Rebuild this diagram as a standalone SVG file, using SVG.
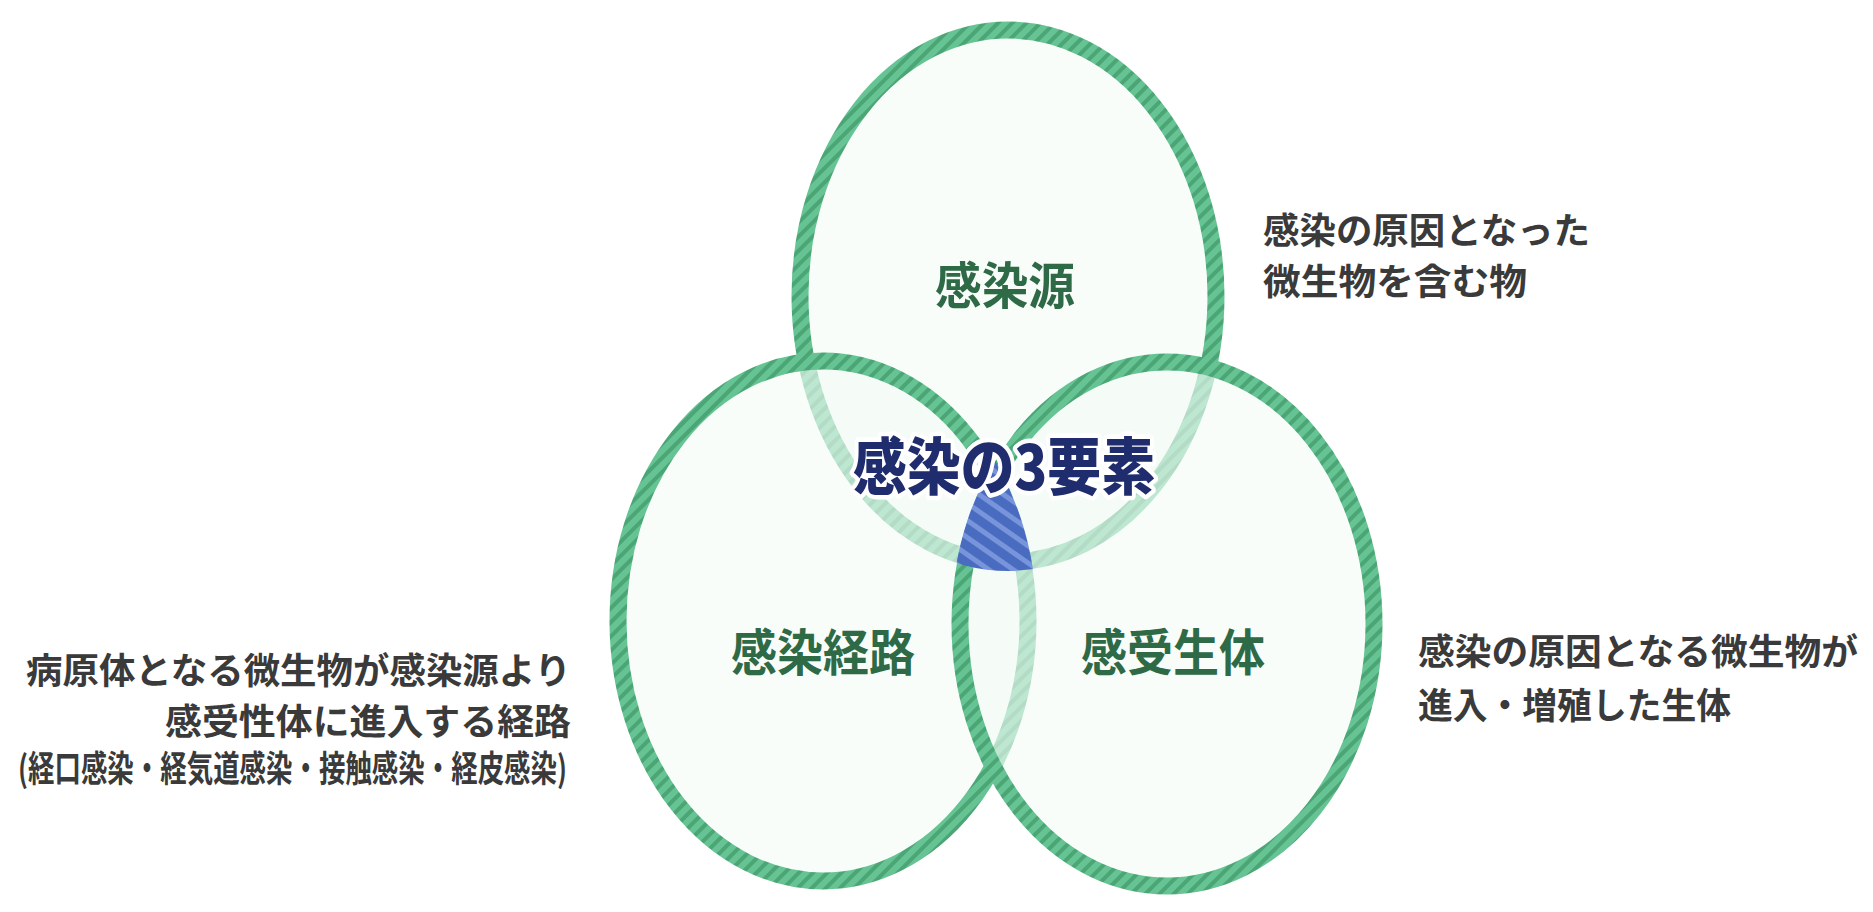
<svg xmlns="http://www.w3.org/2000/svg" width="1873" height="912" viewBox="0 0 1873 912">
<defs>
<pattern id="gstripe" patternUnits="userSpaceOnUse" width="10" height="10" patternTransform="rotate(45)">
<rect width="10" height="10" fill="#66c494"/>
<rect width="4" height="10" fill="#4ba574"/>
</pattern>
<pattern id="bstripe" patternUnits="userSpaceOnUse" width="14" height="14" patternTransform="rotate(-55)">
<rect width="14" height="14" fill="#4a6cc0"/>
<rect width="5" height="14" fill="#7894da"/>
</pattern>
<clipPath id="clipR"><ellipse cx="1167" cy="624" rx="216" ry="271"/></clipPath>
<clipPath id="clipT"><ellipse cx="1008" cy="296" rx="217" ry="275"/></clipPath>
</defs>
<style>
.ring{stroke:url(#gstripe);stroke-width:17;fill:#f4fbf7;fill-opacity:0.62}
.lbl{font-family:"Noto Sans CJK JP","Noto Sans",sans-serif;font-weight:700;font-size:50px;fill:#2f6a47;text-anchor:middle}
.desc{font-family:"Noto Sans CJK JP","Noto Sans",sans-serif;font-weight:700;font-size:36px;fill:#3a3a3a}
.title{font-family:"Noto Sans CJK JP","Noto Sans",sans-serif;font-weight:900;font-size:62px;fill:#1f2d6e;stroke:#ffffff;stroke-width:9;stroke-linejoin:round;paint-order:stroke;text-anchor:middle}
</style>
<rect width="1873" height="912" fill="#ffffff"/>
<g id="node-source">
<ellipse class="ring" cx="1008" cy="296" rx="208" ry="266"/>
<text class="lbl" x="1005" y="304" textLength="140" lengthAdjust="spacingAndGlyphs">感染源</text>
<text class="desc" x="1263" y="244" textLength="327" lengthAdjust="spacingAndGlyphs">感染の原因となった</text>
<text class="desc" x="1263" y="295" textLength="264" lengthAdjust="spacingAndGlyphs">微生物を含む物</text>
</g>
<g id="node-route">
<ellipse class="ring" cx="823" cy="621" rx="205" ry="260"/>
<text class="lbl" x="823" y="671" textLength="184" lengthAdjust="spacingAndGlyphs">感染経路</text>
<text class="desc" x="26" y="684" textLength="545" lengthAdjust="spacingAndGlyphs">病原体となる微生物が感染源より</text>
<text class="desc" x="165" y="735" textLength="406" lengthAdjust="spacingAndGlyphs">感受性体に進入する経路</text>
<text class="desc" x="18" y="782" font-size="27" textLength="549" lengthAdjust="spacingAndGlyphs">(経口感染・経気道感染・接触感染・経皮感染)</text>
</g>
<g id="node-host">
<ellipse class="ring" cx="1167" cy="624" rx="207" ry="262"/>
<text class="lbl" x="1173" y="671" textLength="184" lengthAdjust="spacingAndGlyphs">感受生体</text>
<text class="desc" x="1418" y="665" textLength="440" lengthAdjust="spacingAndGlyphs">感染の原因となる微生物が</text>
<text class="desc" x="1418" y="719" textLength="313" lengthAdjust="spacingAndGlyphs">進入・増殖した生体</text>
</g>
<g id="node-center">
<g clip-path="url(#clipT)">
<g clip-path="url(#clipR)">
<ellipse cx="823" cy="621" rx="214" ry="269" fill="url(#bstripe)"/>
</g>
</g>
<text class="title" x="1004" y="490" textLength="302" lengthAdjust="spacingAndGlyphs">感染の3要素</text>
</g>
</svg>
